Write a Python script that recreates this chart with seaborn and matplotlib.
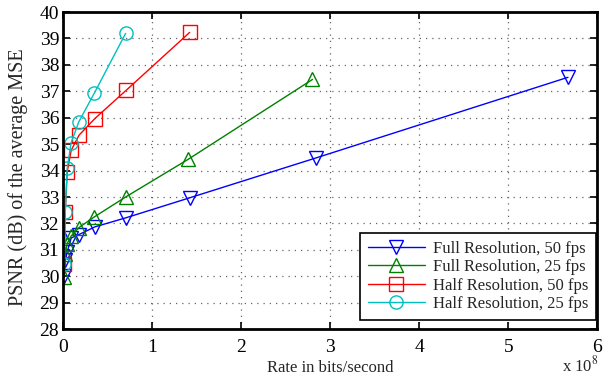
import matplotlib
matplotlib.use("Agg")
import matplotlib.pyplot as plt
import seaborn as sns

# rates in units of 1e8 bits/second, PSNR in dB
full50_rate = [0.011, 0.022, 0.044, 0.089, 0.177, 0.355, 0.71, 1.42, 2.84, 5.67]
full50_psnr = [30.0, 30.6, 30.92, 31.45, 31.58, 31.87, 32.22, 32.97, 34.48, 37.53]

full25_rate = [0.011, 0.022, 0.044, 0.0875, 0.175, 0.35, 0.70, 1.40, 2.80]
full25_psnr = [29.97, 30.86, 31.24, 31.52, 31.84, 32.25, 33.0, 34.42, 37.45]

half50_rate = [0.011, 0.022, 0.044, 0.089, 0.177, 0.355, 0.71, 1.42]
half50_psnr = [30.48, 32.44, 33.95, 34.77, 35.34, 35.97, 37.05, 39.23]

half25_rate = [0.011, 0.022, 0.044, 0.0875, 0.175, 0.35, 0.70]
half25_psnr = [30.48, 32.44, 34.08, 35.05, 35.85, 36.94, 39.19]

labels = ["Full Resolution, 50 fps", "Full Resolution, 25 fps",
          "Half Resolution, 50 fps", "Half Resolution, 25 fps"]

sns.set_theme(style="ticks")
plt.rcParams['font.family'] = ['Liberation Serif', 'DejaVu Serif']
plt.rcParams['mathtext.fontset'] = 'stix'

fig = plt.figure(figsize=(6.05, 3.77), dpi=100)
ax = fig.add_axes([0.1046, 0.127, 0.8827, 0.841])

series = [
    (full50_rate, full50_psnr, "#0000ff", "v"),
    (full25_rate, full25_psnr, "#008000", "^"),
    (half50_rate, half50_psnr, "#ff0000", "s"),
    (half25_rate, half25_psnr, "#00bfbf", "o"),
]
for (x, y, c, m), lab in zip(series, labels):
    sns.lineplot(x=x, y=y, ax=ax, color=c, marker=m, markersize=9.5,
                 markerfacecolor="none", markeredgecolor=c, markeredgewidth=1.0,
                 linewidth=1.0, label=lab, sort=False)

ax.set_xlim(0, 6)
ax.set_ylim(28, 40)
ax.set_xticks(range(0, 7))
ax.set_yticks(range(28, 41))
ax.grid(True, linestyle=(0, (1, 4)), color="#666666", linewidth=0.9)
ax.tick_params(direction="in", length=5, width=1.2, top=True, right=True,
               labelsize=14, colors="black", pad=3)
ax.tick_params(axis="x", pad=7)
for s in ax.spines.values():
    s.set_linewidth(2.0)
    s.set_color("black")

ax.set_xlabel("Rate in bits/second", fontsize=12, labelpad=3)
ax.set_ylabel("PSNR (dB) of the average MSE", fontsize=14.5, labelpad=2)
ax.yaxis.set_label_coords(-0.067, 0.48)
fig.text(0.99, 0.003, r"x 10$^{8}$", ha="right", va="bottom", fontsize=12)

leg = ax.legend(loc="lower right", bbox_to_anchor=(0.997, 0.03), fontsize=12,
                frameon=True, fancybox=False, edgecolor="black", framealpha=1,
                borderaxespad=0.0, handlelength=3.4, labelspacing=0.15,
                borderpad=0.45, handletextpad=0.5)
leg.get_frame().set_linewidth(1.2)

fig.savefig("out.png", dpi=100)
